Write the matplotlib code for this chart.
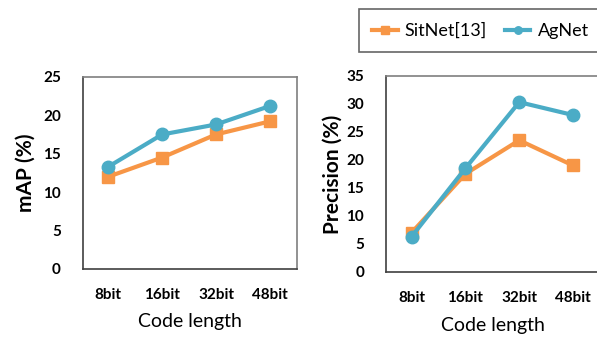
import matplotlib
matplotlib.use('Agg')
import matplotlib.pyplot as plt

# données
codes = ['8bit', '16bit', '32bit', '48bit']
map_sitnet = [12.0, 14.5, 17.5, 19.2]
map_agnet = [13.3, 17.5, 18.8, 21.2]
prec_sitnet = [7.0, 17.5, 23.5, 19.0]
prec_agnet = [6.3, 18.5, 30.3, 28.0]

orange = '#F79646'
bleu = '#4BACC6'
plt.rcParams['font.family'] = ['Lato', 'DejaVu Sans']

fig = plt.figure(figsize=(5.97, 3.37), dpi=100)
ax1 = fig.add_axes([0.139, 0.202, 0.358, 0.570])
ax2 = fig.add_axes([0.647, 0.193, 0.358, 0.582])

x = range(len(codes))
for ax, s, a, ymax, ylab in [(ax1, map_sitnet, map_agnet, 25, 'mAP (%)'),
                             (ax2, prec_sitnet, prec_agnet, 35, 'Precision (%)')]:
    ax.plot(x, s, color=orange, lw=3, marker='s', ms=9, label='SitNet[13]')
    ax.plot(x, a, color=bleu, lw=3, marker='o', ms=9, label='AgNet')
    ax.set_ylim(0, ymax)
    ax.set_yticks(range(0, ymax + 1, 5))
    ax.set_xlim(-0.47, 3.5)
    ax.set_xticks(list(x))
    ax.set_xticklabels(codes)
    ax.tick_params(length=0, labelsize=11)
    ax.tick_params(axis='y', pad=16)
    ax.tick_params(axis='x', pad=14)
    for lab in ax.get_xticklabels() + ax.get_yticklabels():
        lab.set_fontweight('bold')
    for sp in ax.spines.values():
        sp.set_color('#7f7f7f')
        sp.set_linewidth(1.2)
    ax.spines['left'].set_color('#404040')
    ax.spines['bottom'].set_color('#404040')
    ax.set_ylabel(ylab, fontsize=15, fontweight='bold')
    ax.set_xlabel('Code length', fontsize=14, labelpad=8)

ax1.yaxis.set_label_coords(-0.22, 0.5)
ax2.yaxis.set_label_coords(-0.206, 0.5)

handles, labels = ax2.get_legend_handles_labels()
leg = fig.legend(handles, labels, loc='upper left', bbox_to_anchor=(0.601, 0.973),
                 ncol=2, fontsize=13, frameon=True, fancybox=False,
                 handlelength=1.4, handletextpad=0.4, markerscale=0.6,
                 columnspacing=1.0, borderpad=0.75, borderaxespad=0)
leg.get_frame().set_edgecolor('#404040')
leg.get_frame().set_linewidth(1.2)

fig.savefig('out.png', dpi=100)
